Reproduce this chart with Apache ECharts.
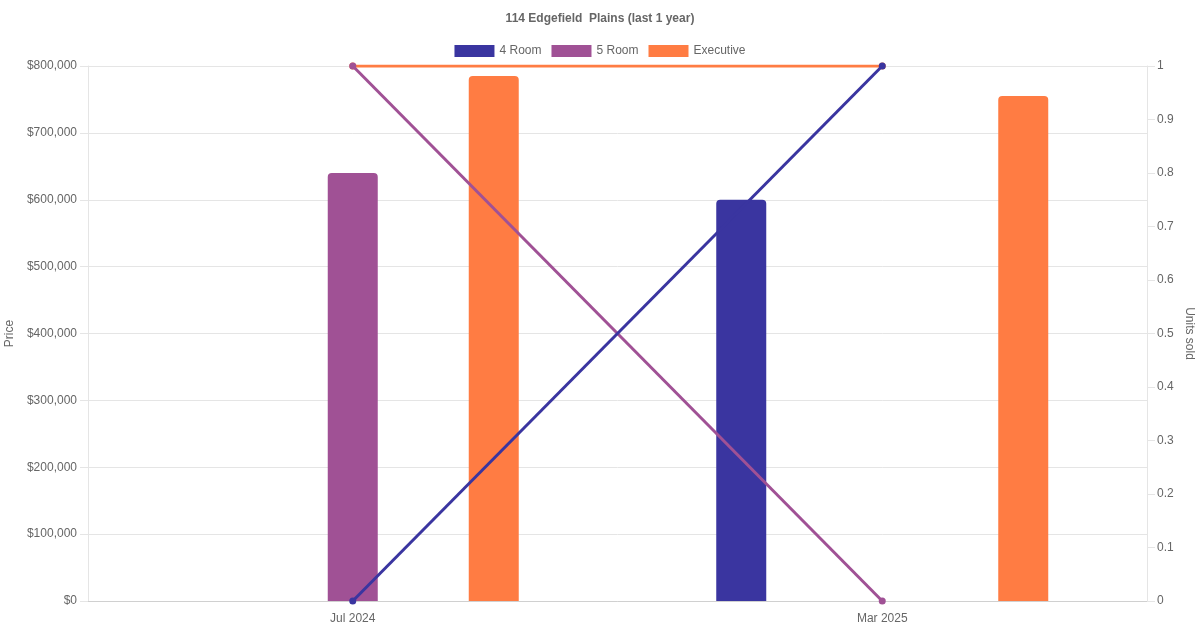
<!DOCTYPE html>
<html>
<head>
<meta charset="utf-8">
<script src="https://cdn.jsdelivr.net/npm/echarts@6/dist/echarts.min.js"></script>
<style>
html,body{margin:0;padding:0;background:#fff;}
#chart{width:1200px;height:630px;}
</style>
</head>
<body>
<div id="chart"></div>
<script>
const categories = ['Jul 2024', 'Mar 2025'];
const seriesNames = ['4 Room', '5 Room', 'Executive'];
const colors = ['#3a35a0', '#a05195', '#ff7c43'];
const priceRoom4 = [null, 600000];
const priceRoom5 = [640000, null];
const priceExec = [785000, 755000];
const unitsRoom4 = [0, 1];
const unitsRoom5 = [1, 0];
const unitsExec = [1, 1];

const prices = [priceRoom4, priceRoom5, priceExec];
const units = [unitsRoom4, unitsRoom5, unitsExec];

const FONT = 'Liberation Sans, Arial, sans-serif';
const chart = echarts.init(document.getElementById('chart'));

const barSeries = seriesNames.map((n, i) => ({
  name: n, type: 'bar', yAxisIndex: 0, data: prices[i],
  barWidth: 50, barGap: '182%',
  itemStyle: { color: colors[i], borderRadius: [4, 4, 0, 0] },
  z: 2
}));
const lineOrder = [2, 1, 0];
const lineSeries = lineOrder.map((i, k) => ({
  name: seriesNames[i], type: 'line', yAxisIndex: 1, data: units[i],
  symbol: 'circle', symbolSize: 7, showSymbol: true,
  lineStyle: { color: colors[i], width: 3 },
  itemStyle: { color: colors[i] },
  z: 5 + k
}));

chart.setOption({
  animation: false,
  color: colors,
  textStyle: { fontFamily: FONT },
  title: {
    text: '114 Edgefield  Plains (last 1 year)',
    left: 'center', top: 8,
    textStyle: { fontSize: 12, fontWeight: 'bold', color: '#666', fontFamily: FONT }
  },
  legend: {
    top: 40, left: 'center',
    data: seriesNames.map((n, i) => ({ name: n, icon: 'rect', itemStyle: { color: colors[i], borderColor: colors[i] } })),
    itemWidth: 40, itemHeight: 12, itemGap: 10,
    textStyle: { fontSize: 12, color: '#666', fontFamily: FONT }
  },
  grid: { left: 88, right: 53, top: 66, bottom: 29, containLabel: false, outerBoundsMode: 'none' },
  xAxis: {
    type: 'category', data: categories,
    axisLine: { show: true, lineStyle: { color: '#d0d0d0' } },
    axisTick: { show: false },
    axisLabel: { color: '#666', fontSize: 12, margin: 12, fontFamily: FONT },
    splitLine: { show: false }
  },
  yAxis: [
    {
      type: 'value', min: 0, max: 800000, interval: 100000,
      name: 'Price', nameLocation: 'middle', nameRotate: 90, nameGap: 72,
      nameMoveOverlap: false,
      nameTextStyle: { color: '#666', fontSize: 12, fontFamily: FONT },
      axisLine: { show: true, lineStyle: { color: '#e5e5e5' } },
      axisTick: { show: true, length: 8, lineStyle: { color: '#e5e5e5' } },
      axisLabel: { color: '#666', fontSize: 12, margin: 11, fontFamily: FONT,
        formatter: v => '$' + v.toLocaleString('en-US') },
      splitLine: { show: true, lineStyle: { color: '#e5e5e5' } }
    },
    {
      type: 'value', min: 0, max: 1, interval: 0.1, position: 'right',
      name: 'Units sold', nameLocation: 'middle', nameRotate: -90, nameGap: 36,
      nameMoveOverlap: false,
      nameTextStyle: { color: '#666', fontSize: 12, fontFamily: FONT },
      axisLine: { show: true, lineStyle: { color: '#e5e5e5' } },
      axisTick: { show: true, length: 8, lineStyle: { color: '#e5e5e5' } },
      axisLabel: { color: '#666', fontSize: 12, margin: 10, fontFamily: FONT,
        formatter: v => String(Math.round(v * 10) / 10) },
      splitLine: { show: false }
    }
  ],
  series: barSeries.concat(lineSeries)
});
</script>
</body>
</html>
